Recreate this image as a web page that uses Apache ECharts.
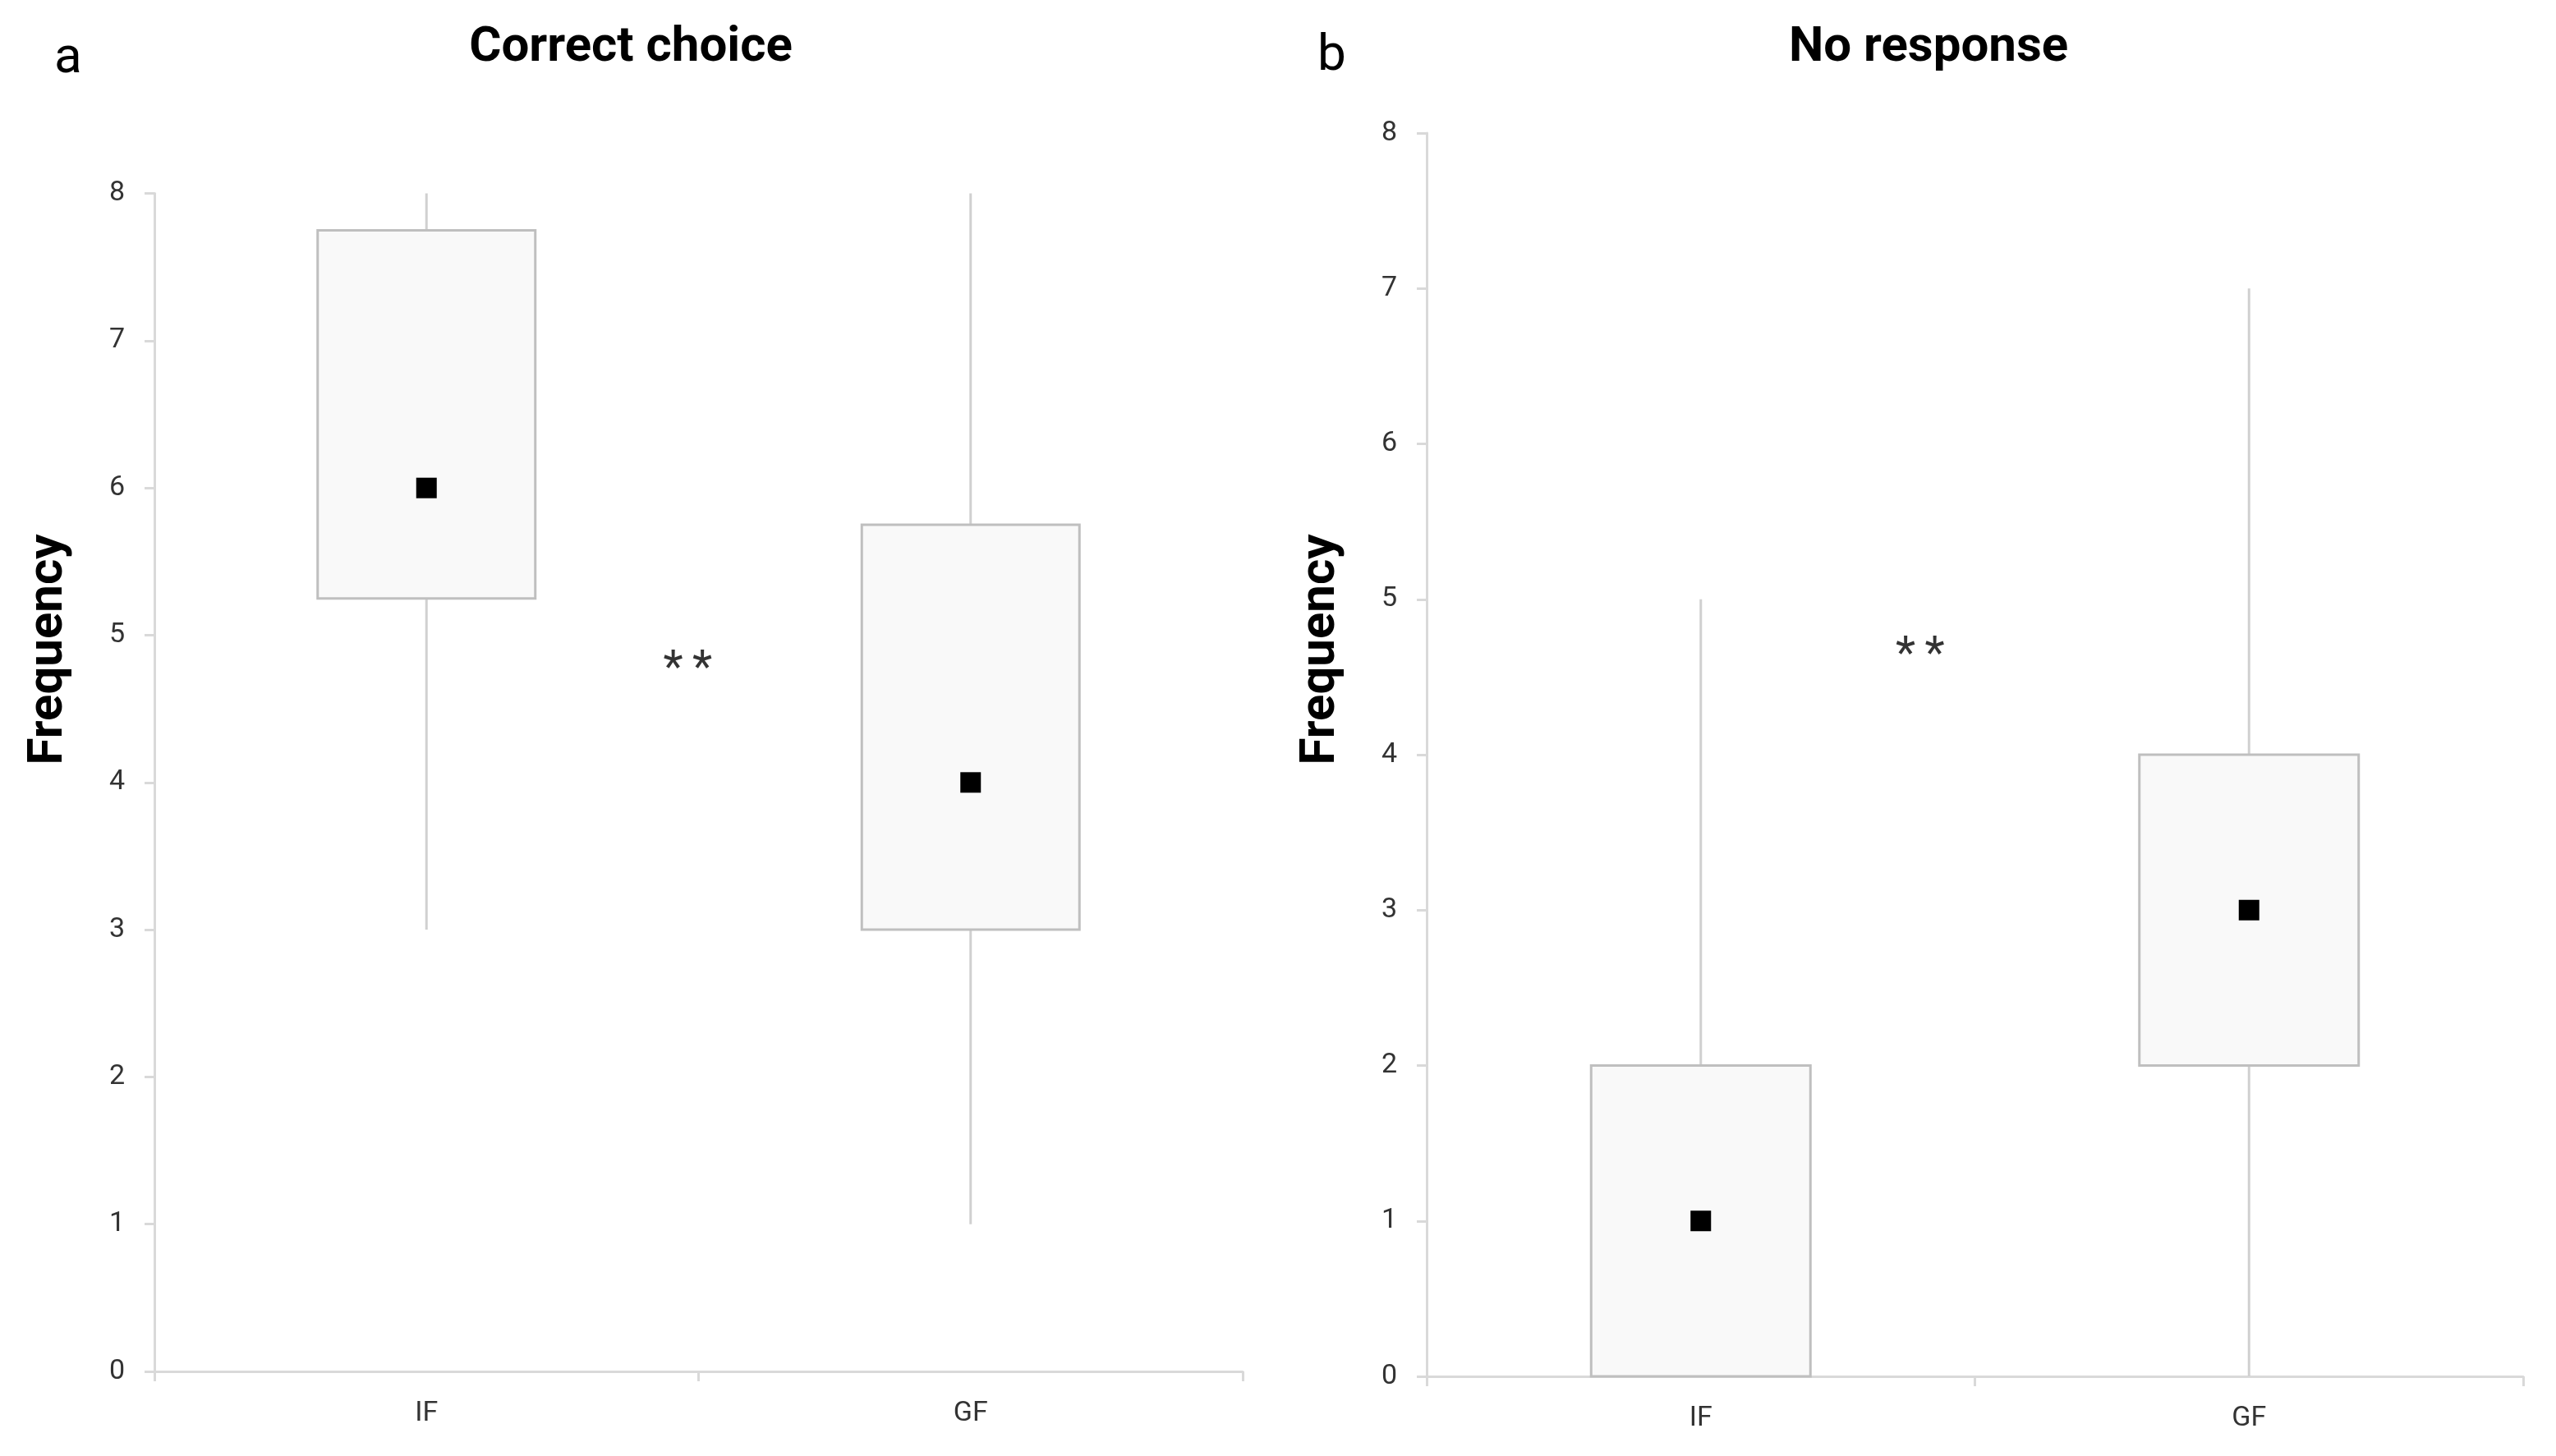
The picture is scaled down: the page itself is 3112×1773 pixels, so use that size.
<!DOCTYPE html>
<html>
<head>
<meta charset="utf-8">
<script src="https://cdn.jsdelivr.net/npm/echarts/dist/echarts.min.js"></script>
<style>
html,body{margin:0;padding:0;background:#fff;}
#chart{width:3112px;height:1773px;}
</style>
</head>
<body>
<div id="chart"></div>
<script>
// ---- data ----
const categories = ['IF', 'GF'];
const yTicks = [0, 1, 2, 3, 4, 5, 6, 7, 8];
// [categoryIndex, min, Q1, median, Q3, max]
const correctChoice = [
  [0, 3, 5.25, 6, 7.75, 8],
  [1, 1, 3, 4, 5.75, 8]
];
const noResponse = [
  [0, 0, 0, 1, 2, 5],
  [1, 0, 2, 3, 4, 7]
];
// significance markers: [x position between categories (0..2), y value]
const sigA = [[0.98, 4.83]];
const sigB = [[0.90, 4.70]];
const panelTitles = ['Correct choice', 'No response'];
const panelLetters = ['a', 'b'];
const yName = 'Frequency';

const chart = echarts.init(document.getElementById('chart'));

const AXIS = '#d9d9d9';
const LABEL = '#333333';
const FONT = 'Roboto, "Noto Sans", sans-serif';

function renderBox(params, api) {
  const x = api.value(0);
  const lo = api.coord([x, api.value(1)]);
  const q1 = api.coord([x, api.value(2)]);
  const med = api.coord([x, api.value(3)]);
  const q3 = api.coord([x, api.value(4)]);
  const hi = api.coord([x, api.value(5)]);
  const w = api.size([1, 0])[0] * 0.4;
  const m = 25;
  return {
    type: 'group',
    children: [
      {type: 'line', shape: {x1: lo[0], y1: lo[1], x2: hi[0], y2: hi[1]},
       style: {stroke: '#d0d0d0', lineWidth: 3}},
      {type: 'rect', shape: {x: q3[0] - w / 2, y: q3[1], width: w, height: q1[1] - q3[1]},
       style: {fill: '#f9f9f9', stroke: '#bfbfbf', lineWidth: 3}},
      {type: 'rect', shape: {x: med[0] - m / 2, y: med[1] - m / 2, width: m, height: m},
       style: {fill: '#000000'}}
    ]
  };
}

function xCat(gridIndex) {
  return {
    type: 'category', gridIndex: gridIndex, data: categories, boundaryGap: true,
    axisLine: {show: true, lineStyle: {color: AXIS, width: 3}},
    axisTick: {show: true, length: 12, lineStyle: {color: AXIS, width: 3}},
    axisLabel: {color: LABEL, fontSize: 34, fontFamily: FONT, margin: 34},
    splitLine: {show: false}
  };
}
function xVal(gridIndex) {
  return {type: 'value', gridIndex: gridIndex, min: 0, max: 2, show: false};
}
function yAx(gridIndex) {
  return {
    type: 'value', gridIndex: gridIndex, min: 0, max: 8, interval: 1,
    axisLine: {show: true, lineStyle: {color: AXIS, width: 3}},
    axisTick: {show: true, length: 12, lineStyle: {color: AXIS, width: 3}},
    axisLabel: {color: LABEL, fontSize: 34, fontFamily: FONT, margin: 36,
      customValues: yTicks},
    splitLine: {show: false}
  };
}
function sigSeries(xi, yi, data) {
  return {
    type: 'scatter', xAxisIndex: xi, yAxisIndex: yi, data: data,
    symbolSize: 1, itemStyle: {color: 'rgba(0,0,0,0)'}, silent: true,
    label: {show: true, position: 'inside', formatter: '*\u2009*', color: '#000',
      fontSize: 56, fontFamily: FONT, offset: [0, 13]}
  };
}

function txt(x, y, text, font, align, rot) {
  return {
    type: 'text', x: x, y: y, rotation: rot || 0,
    style: {text: text, font: font, fill: '#000', textAlign: align || 'center', textVerticalAlign: 'middle'}
  };
}

const option = {
  backgroundColor: '#ffffff',
  animation: false,
  grid: [
    {left: 188, top: 235.6, width: 1325, height: 1434.4},
    {left: 1737, top: 162, width: 1335, height: 1514}
  ],
  xAxis: [xCat(0), xCat(1), xVal(0), xVal(1)],
  yAxis: [yAx(0), yAx(1)],
  series: [
    {type: 'custom', xAxisIndex: 0, yAxisIndex: 0, data: correctChoice,
     encode: {x: 0, y: [1, 2, 3, 4, 5]}, renderItem: renderBox, clip: false},
    {type: 'custom', xAxisIndex: 1, yAxisIndex: 1, data: noResponse,
     encode: {x: 0, y: [1, 2, 3, 4, 5]}, renderItem: renderBox, clip: false},
    sigSeries(2, 0, sigA),
    sigSeries(3, 1, sigB)
  ],
  graphic: [
    txt(66, 72, panelLetters[0], 'normal 62px ' + FONT, 'left'),
    txt(1604, 69, panelLetters[1], 'normal 62px ' + FONT, 'left'),
    txt(768, 59, panelTitles[0], 'bold 60px ' + FONT, 'center'),
    txt(2348, 59, panelTitles[1], 'bold 60px ' + FONT, 'center'),
    txt(60, 791, yName, 'bold 60px ' + FONT, 'center', Math.PI / 2),
    txt(1609, 791, yName, 'bold 60px ' + FONT, 'center', Math.PI / 2)
  ]
};
chart.setOption(option);
</script>
</body>
</html>
